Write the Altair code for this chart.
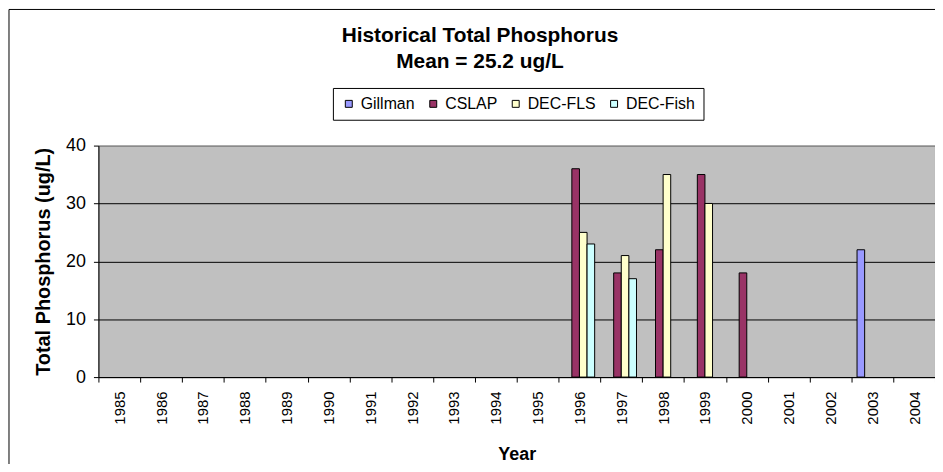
import altair as alt
import pandas as pd

years = [str(y) for y in range(1985, 2005)]
series = ["Gillman", "CSLAP", "DEC-FLS", "DEC-Fish"]
colors = ["#9999FF", "#993366", "#FFFFCC", "#CCFFFF"]

obs_year = ["1996", "1996", "1996", "1997", "1997", "1997", "1998", "1998", "1999", "1999", "2000", "2003"]
obs_series = ["CSLAP", "DEC-FLS", "DEC-Fish", "CSLAP", "DEC-FLS", "DEC-Fish", "CSLAP", "DEC-FLS", "CSLAP", "DEC-FLS", "CSLAP", "Gillman"]
obs_value = [36, 25, 23, 18, 21, 17, 22, 35, 35, 30, 18, 22]

y_ticks = [0, 10, 20, 30, 40]
title_lines = ["Historical Total Phosphorus", "Mean = 25.2 ug/L"]

FONT = "Liberation Sans"

df = pd.DataFrame({"Year": obs_year, "Series": obs_series, "Value": obs_value})

bars = alt.Chart(df).mark_bar(stroke="black", strokeWidth=1).encode(
    x=alt.X(
        "Year:N",
        scale=alt.Scale(domain=years, paddingInner=0, paddingOuter=0),
        axis=alt.Axis(
            title="Year",
            labelAngle=-90,
            labelAlign="right",
            labelBaseline="middle",
            labelPadding=9,
            labelFontSize=15,
            tickBand="extent",
            tickSize=5,
            titleFontSize=18,
            titlePadding=22,
            grid=False,
        ),
    ),
    xOffset=alt.XOffset(
        "Series:N",
        scale=alt.Scale(domain=series, paddingInner=0, paddingOuter=0.75),
    ),
    y=alt.Y(
        "Value:Q",
        scale=alt.Scale(domain=[0, 40], nice=False),
        axis=alt.Axis(
            title="Total Phosphorus (ug/L)",
            values=y_ticks,
            labelFontSize=18,
            labelPadding=8,
            tickSize=5,
            titleFontSize=20,
            titlePadding=12,
            grid=True,
            gridColor={"condition": {"test": "datum.value === 40", "value": "#808080"}, "value": "black"},
        ),
    ),
    color=alt.Color(
        "Series:N",
        scale=alt.Scale(domain=series, range=colors),
        legend=alt.Legend(
            title=None,
            orient="none",
            legendX=236,
            legendY=-58,
            direction="horizontal",
            columns=4,
            strokeColor="black",
            fillColor="white",
            padding=8,
            symbolType="square",
            symbolSize=49,
            symbolStrokeColor="black",
            symbolStrokeWidth=1,
            symbolOpacity=1,
            labelFont=FONT,
            labelFontSize=16,
            labelColor="black",
            labelOffset=4,
            columnPadding=10,
        ),
    ),
)

border = alt.Chart(pd.DataFrame({"k": [0]})).mark_rect(
    fill="transparent", stroke="black", strokeWidth=1
).encode(
    x=alt.value(-90), x2=alt.value(3000), y=alt.value(-137), y2=alt.value(3000)
)

chart = alt.layer(border, bars).properties(
    width=842,
    height=233,
    background="white",
    padding={"left": 91, "top": 137, "right": 0, "bottom": 86},
    autosize=alt.AutoSizeParams(type="none"),
    title=alt.TitleParams(
        title_lines,
        font=FONT,
        fontSize=21,
        fontWeight="bold",
        color="black",
        anchor="middle",
        frame="group",
        dx=-37,
        dy=67,
        lineHeight=26,
    ),
).configure_view(
    fill="#C0C0C0", stroke="#808080", strokeWidth=1
).configure_axis(
    domainColor="black",
    tickColor="black",
    labelColor="black",
    titleColor="black",
    labelFont=FONT,
    titleFont=FONT,
    titleFontWeight="bold",
    domainWidth=1,
    tickWidth=1,
    gridWidth=1,
)

chart.save("out.html", embed_options={"renderer": "svg", "actions": False})
